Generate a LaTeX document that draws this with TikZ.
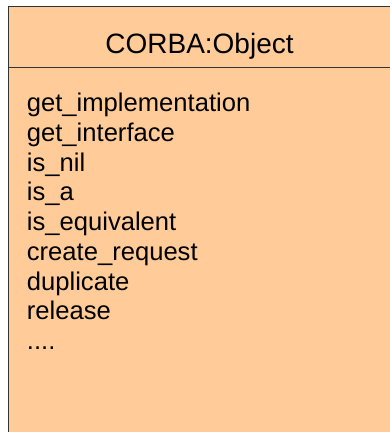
\documentclass[tikz,border=0pt]{standalone}
\usepackage{fontspec}
\setmainfont{Liberation Sans}
\definecolor{boxfill}{HTML}{FFCC99}
\definecolor{boxline}{HTML}{333333}
\begin{document}
\begin{tikzpicture}[x=1pt,y=1pt,
  item/.style={anchor=base west, inner sep=0pt, font=\fontsize{25.6}{29.75}\selectfont},
  title/.style={anchor=base, inner sep=0pt, font=\fontsize{28}{32}\selectfont}]
\useasboundingbox (0,0) rectangle (390,432);
\begin{scope}
\clip (0,0) rectangle (390,432);
\fill[white] (0,0) rectangle (390,432);
\filldraw[fill=boxfill, draw=boxline, line width=1pt] (8,-5) rectangle (400,425);
\draw[boxline, line width=1pt] (8,364.3) -- (400,364.3);
\end{scope}
\node[title] (t) at (199.5,378.7) {CORBA:Object};
\node[item] (m1) at (26.7,320.3) {get\_implementation};
\node[item] (m2) at (26.7,290.55) {get\_interface};
\node[item] (m3) at (26.7,260.8) {is\_nil};
\node[item] (m4) at (26.7,231.05) {is\_a};
\node[item] (m5) at (26.7,201.3) {is\_equivalent};
\node[item] (m6) at (26.7,171.55) {create\_request};
\node[item] (m7) at (26.7,141.8) {duplicate};
\node[item] (m8) at (26.7,112.05) {release};
\node[item] (m9) at (26.7,82.3) {....};
\end{tikzpicture}
\end{document}
